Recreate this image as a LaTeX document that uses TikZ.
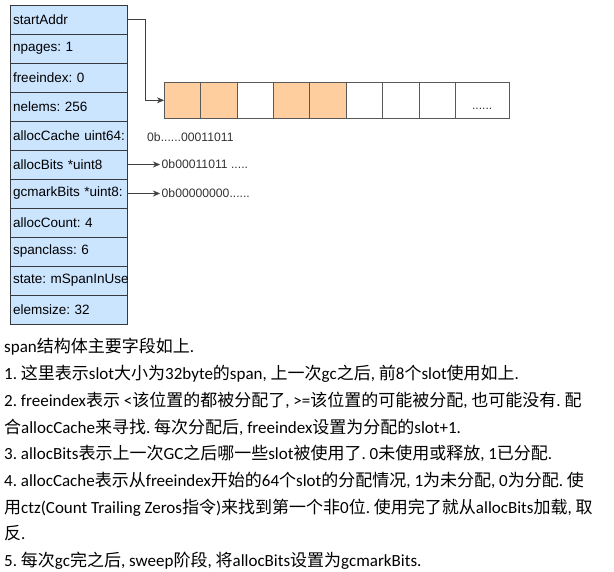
\documentclass[tikz,border=0pt]{standalone}
\usepackage{fontspec}
\setmainfont{Carlito}
\setsansfont{Liberation Sans}
\newfontfamily\zhfont{Noto Sans CJK SC}
\newcommand\zh[1]{{\zhfont #1}}
\usetikzlibrary{positioning,arrows.meta}
\definecolor{spanblue}{HTML}{CCE5FF}
\definecolor{slotorange}{HTML}{FFCE9F}
\definecolor{spanedge}{HTML}{36393D}
\tikzset{
    sp field/.style={rectangle, draw=spanedge, fill=spanblue, thick,
                     minimum width=117pt, minimum height=29pt,
                     text width=111pt, inner xsep=3pt, outer sep=0pt,
                     execute at begin node={\hbox to 111pt\bgroup},
                     execute at end node={\hss\egroup},
                     font=\sffamily\fontsize{13.5}{15}\selectfont},
    sp cell/.style={rectangle, draw=black!65, semithick, fill=white,
                    minimum width=36.4pt, minimum height=36.6pt,
                    outer sep=0pt, inner sep=0pt},
    sp used/.style={sp cell, fill=slotorange},
    sp bits/.style={font=\sffamily\fontsize{12.2}{14}\selectfont,
                    text=black!80, inner sep=1.5pt},
    sp conn/.style={-{Stealth[length=7pt,width=6pt]}, semithick, black!75},
    tx line/.style={anchor=base west, inner sep=0pt,
                    font=\fontsize{17}{20}\selectfont},
}

\begin{document}
\frenchspacing
\begin{tikzpicture}[x=1pt, y=-1pt]
    \useasboundingbox (0,0) rectangle (614,572);
    % span struct fields
    \node[sp field, anchor=north west] (f1) at (10,5) {startAddr};
    \node[sp field, below=0pt of f1] (f2) {npages: 1};
    \node[sp field, below=0pt of f2] (f3) {freeindex: 0};
    \node[sp field, below=0pt of f3] (f4) {nelems: 256};
    \node[sp field, below=0pt of f4] (f5) {allocCache uint64:};
    \node[sp field, below=0pt of f5] (f6) {allocBits *uint8};
    \node[sp field, below=0pt of f6] (f7) {gcmarkBits *uint8:};
    \node[sp field, below=0pt of f7] (f8) {allocCount: 4};
    \node[sp field, below=0pt of f8] (f9) {spanclass: 6};
    \node[sp field, below=0pt of f9] (f10) {state: mSpanInUse};
    \node[sp field, below=0pt of f10] (f11) {elemsize: 32};
    % slots of the span
    \node[sp used, anchor=north west] (c1) at (164,82) {};
    \node[sp used, right=0pt of c1] (c2) {};
    \node[sp cell, right=0pt of c2] (c3) {};
    \node[sp used, right=0pt of c3] (c4) {};
    \node[sp used, right=0pt of c4] (c5) {};
    \node[sp cell, right=0pt of c5] (c6) {};
    \node[sp cell, right=0pt of c6] (c7) {};
    \node[sp cell, right=0pt of c7] (c8) {};
    \node[sp cell, right=0pt of c8, minimum width=54pt] (c9) {};
    \node[sp bits, anchor=base] (dots) at ([yshift=-9pt]c9.center) {......};
    % bitmaps
    \node[sp bits, anchor=west] (cache) at (145.5,137) {0b......00011011};
    \node[sp bits, anchor=west] (abits) at (f6.east -| 160,0) {0b00011011 .....};
    \node[sp bits, anchor=west] (gbits) at (f7.east -| 160,0) {0b00000000......};
    % pointers
    \draw[sp conn] (f1.east) -- ++(18,0) |- (c1.west);
    \draw[sp conn] (f6.east) -- (abits.west);
    \draw[sp conn] (f7.east) -- (gbits.west);
    % notes
    \node[tx line] (t0) at (4,353) {span\zh{结构体主要字段如上}.};
    \node[tx line] (t1) at (4,379.7) {1. \zh{这里表示}slot\zh{大小为}32byte\zh{的}span, \zh{上一次}gc\zh{之后}, \zh{前}8\zh{个}slot\zh{使用如上}.};
    \node[tx line] (t2) at (4,406.4) {2. freeindex\zh{表示} <\zh{该位置的都被分配了}, >=\zh{该位置的可能被分配}, \zh{也可能没有}. \zh{配}};
    \node[tx line] (t3) at (4,433.1) {\zh{合}allocCache\zh{来寻找}. \zh{每次分配后}, freeindex\zh{设置为分配的}slot+1.};
    \node[tx line] (t4) at (4,459.8) {3. allocBits\zh{表示上一次}GC\zh{之后哪一些}slot\zh{被使用了}. 0\zh{未使用或释放}, 1\zh{已分配}.};
    \node[tx line] (t5) at (4,486.5) {4. allocCache\zh{表示从}freeindex\zh{开始的}64\zh{个}slot\zh{的分配情况}, 1\zh{为未分配}, 0\zh{为分配}. \zh{使}};
    \node[tx line] (t6) at (4,513.2) {\zh{用}ctz(Count Trailing Zeros\zh{指令})\zh{来找到第一个非}0\zh{位}. \zh{使用完了就从}allocBits\zh{加载}, \zh{取}};
    \node[tx line] (t7) at (4,539.9) {\zh{反}.};
    \node[tx line] (t8) at (4,566.6) {5. \zh{每次}gc\zh{完之后}, sweep\zh{阶段}, \zh{将}allocBits\zh{设置为}gcmarkBits.};
\end{tikzpicture}
\end{document}
